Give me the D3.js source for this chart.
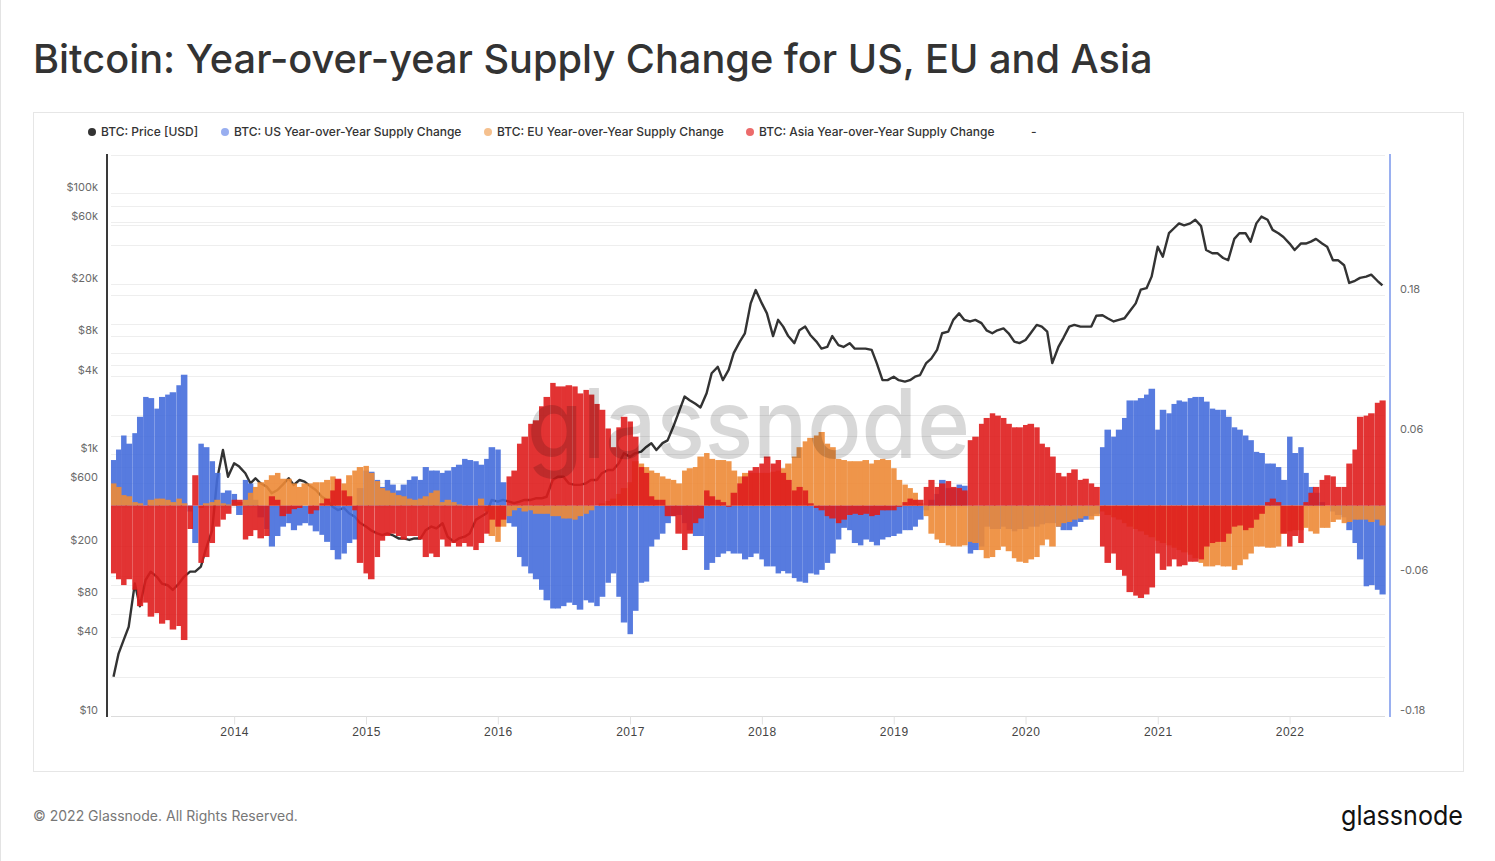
<!DOCTYPE html>
<meta charset="utf-8">
<style>
    body {
        margin: 0;
        background-color: #fff;
        font-family: Inter, "Noto Sans", sans-serif;
    }
    .grid line { stroke: #eeeeee; stroke-width: 1; }
    .axis-label { font-size: 11px; fill: #6a6a6a; }
    .x-axis text { font-size: 12px; fill: #444; letter-spacing: 0.5px; }
    .x-axis line { stroke: #e2e2e2; }
    .x-axis path { stroke: #dcdcdc; }
    .legend text { font-size: 12px; font-weight: 500; fill: #333; }
</style>
<title>Bitcoin: Year-over-year Supply Change for US, EU and Asia</title>
<body>
<svg id="chart" width="1495" height="861"></svg>
<script src="https://cdn.jsdelivr.net/npm/d3@7"></script>
<script>
    // semi-monthly samples, 1st and 15th of each month, Feb 2013 .. Sep 2022
    var dates = [];
    for (var yr = 2013; yr <= 2022; yr++) {
        for (var mo = 0; mo < 12; mo++) {
            dates.push(new Date(yr, mo, 1));
            dates.push(new Date(yr, mo, 15));
        }
    }
    dates = dates.slice(2, 2 + 232);

    var priceUSD = [20, 30, 38, 48, 103, 69, 110, 127, 116, 103, 100, 92, 103, 116, 127, 127, 139, 190, 263, 650,
        1082, 676, 857, 808, 718, 602, 658, 602, 568, 505, 535, 585, 658, 585, 638, 620, 568, 535, 475, 449,
        399, 376, 390, 355, 334, 300, 281, 263, 249, 242, 249, 242, 228, 228, 222, 228, 228, 263, 281, 272,
        298, 235, 215, 228, 235, 249, 316, 334, 355, 449, 436, 449, 436, 424, 436, 449, 449, 462, 462, 475,
        638, 676, 676, 602, 585, 585, 602, 638, 638, 718, 760, 760, 857, 1020, 960, 1020, 1050, 1142, 1220, 1082,
        1220, 1282, 1634, 2070, 2770, 2600, 2440, 2290, 2940, 4180, 4680, 3700, 4430, 5950, 7300, 8450, 14300, 18100, 14300, 12000,
        8040, 10700, 9500, 8040, 7100, 8900, 9500, 8200, 7300, 6450, 6640, 8040, 6850, 6640, 7100, 6450, 6450, 6450, 6300, 5000,
        3700, 3700, 3930, 3700, 3610, 3700, 3930, 4050, 5000, 5400, 6300, 8450, 8700, 10700, 12000, 10700, 10400, 10700, 10100, 8900,
        8450, 8900, 9200, 8450, 7300, 7100, 7500, 8450, 9800, 9500, 8700, 5000, 6640, 7800, 9500, 9800, 9500, 9500, 9500, 11500,
        11600, 11000, 10400, 10700, 11000, 12400, 14300, 18200, 18700, 22900, 38800, 32500, 49200, 53700, 58500, 56500, 58500, 62300, 55700, 36600,
        34600, 34600, 31800, 30600, 44500, 49200, 49200, 42400, 58500, 65900, 62300, 52200, 49200, 46000, 41000, 36600, 41000, 41000, 42400, 44500,
        41000, 38800, 30600, 30600, 28000, 20500, 21300, 22400, 22900, 23700, 21300, 19600];

    var usSupplyChange = [0.039, 0.048, 0.060, 0.053, 0.062, 0.076, 0.093, 0.092, 0.083, 0.093, 0.095, 0.097, 0.103, 0.112, -0.005, -0.032, 0.053, 0.050, 0.038, 0.028,
        0.011, 0.013, 0.010, -0.008, 0.022, 0.019, 0.005, -0.010, -0.020, -0.035, -0.026, -0.018, -0.015, -0.021, -0.017, -0.015, -0.017, -0.022, -0.025, -0.031,
        -0.038, -0.046, -0.041, -0.032, -0.029, 0.015, 0.030, 0.029, 0.022, 0.016, 0.022, 0.018, 0.013, 0.018, 0.022, 0.025, 0.022, 0.033, 0.030, 0.030,
        0.028, 0.030, 0.033, 0.035, 0.040, 0.039, 0.038, 0.035, 0.040, 0.050, 0.048, 0.020, -0.015, -0.018, -0.044, -0.052, -0.058, -0.063, -0.072, -0.081,
        -0.088, -0.088, -0.086, -0.083, -0.085, -0.089, -0.081, -0.083, -0.086, -0.078, -0.066, -0.058, -0.078, -0.100, -0.110, -0.090, -0.066, -0.065, -0.035, -0.029,
        -0.024, -0.015, -0.009, -0.008, -0.015, -0.021, -0.026, -0.026, -0.055, -0.049, -0.044, -0.041, -0.039, -0.041, -0.041, -0.046, -0.044, -0.041, -0.046, -0.052,
        -0.052, -0.058, -0.056, -0.058, -0.062, -0.065, -0.066, -0.058, -0.059, -0.055, -0.049, -0.041, -0.029, -0.019, -0.021, -0.032, -0.034, -0.029, -0.031, -0.034,
        -0.029, -0.027, -0.026, -0.024, -0.021, -0.021, -0.018, -0.012, -0.004, 0.005, 0.010, 0.022, 0.015, 0.015, 0.018, 0.017, -0.041, -0.038, -0.035, -0.018,
        -0.020, -0.020, -0.018, -0.020, -0.022, -0.020, -0.020, -0.018, -0.018, -0.016, -0.015, -0.015, -0.018, -0.021, -0.021, -0.018, -0.014, -0.012, -0.009, -0.007,
        0.050, 0.065, 0.059, 0.065, 0.075, 0.090, 0.090, 0.092, 0.095, 0.100, 0.065, 0.082, 0.079, 0.087, 0.090, 0.089, 0.092, 0.093, 0.093, 0.089,
        0.083, 0.082, 0.082, 0.076, 0.067, 0.065, 0.060, 0.056, 0.046, 0.045, 0.036, 0.036, 0.033, 0.022, 0.059, 0.045, 0.050, 0.028, 0.016, 0.011,
        0.003, 0.000, -0.005, -0.008, -0.010, -0.021, -0.032, -0.046, -0.069, -0.068, -0.072, -0.076];

    var euSupplyChange = [0.019, 0.016, 0.009, 0.008, 0.003, 0.002, 0.000, 0.005, 0.006, 0.006, 0.005, 0.003, 0.006, 0.002, 0.000, 0.000, -0.002, 0.002, 0.003, 0.005,
        0.002, 0.001, 0.002, 0.003, 0.005, 0.011, 0.016, 0.020, 0.022, 0.026, 0.028, 0.023, 0.023, 0.019, 0.016, 0.019, 0.019, 0.020, 0.020, 0.022,
        0.025, 0.022, 0.019, 0.026, 0.030, 0.033, 0.034, 0.028, 0.021, 0.015, 0.013, 0.011, 0.009, 0.008, 0.006, 0.005, 0.006, 0.008, 0.011, 0.013,
        0.003, 0.005, 0.003, 0.001, 0.000, 0.000, 0.000, 0.006, -0.005, -0.026, -0.031, -0.018, -0.009, -0.004, -0.002, -0.005, -0.004, -0.007, -0.007, -0.007,
        -0.009, -0.009, -0.011, -0.011, -0.012, -0.009, -0.007, -0.004, 0.000, 0.002, 0.004, 0.006, 0.010, 0.015, 0.020, 0.038, 0.036, 0.033, 0.030, 0.028,
        0.025, 0.023, 0.022, 0.019, 0.030, 0.032, 0.033, 0.042, 0.045, 0.040, 0.039, 0.039, 0.038, 0.030, 0.025, 0.028, 0.028, 0.028, 0.028, 0.028,
        0.029, 0.030, 0.032, 0.036, 0.042, 0.050, 0.055, 0.058, 0.060, 0.063, 0.053, 0.050, 0.040, 0.039, 0.038, 0.038, 0.038, 0.039, 0.036, 0.039,
        0.040, 0.039, 0.032, 0.022, 0.018, 0.015, 0.011, 0.002, -0.009, -0.024, -0.029, -0.032, -0.034, -0.035, -0.035, -0.034, -0.031, -0.032, -0.038, -0.045,
        -0.044, -0.038, -0.035, -0.039, -0.045, -0.048, -0.049, -0.046, -0.044, -0.034, -0.029, -0.035, -0.018, -0.015, -0.014, -0.012, -0.011, -0.009, -0.012, -0.009,
        -0.005, -0.008, -0.010, -0.012, -0.015, -0.018, -0.020, -0.022, -0.025, -0.027, -0.030, -0.032, -0.034, -0.036, -0.038, -0.040, -0.042, -0.045, -0.049, -0.052,
        -0.052, -0.051, -0.052, -0.052, -0.055, -0.051, -0.046, -0.041, -0.035, -0.035, -0.036, -0.036, -0.035, -0.024, -0.022, -0.021, -0.021, -0.019, -0.022, -0.024,
        -0.019, -0.019, -0.014, -0.012, -0.015, -0.014, -0.012, -0.012, -0.012, -0.014, -0.012, -0.017];

    var asiaSupplyChange = [-0.058, -0.063, -0.068, -0.063, -0.072, -0.086, -0.083, -0.095, -0.092, -0.101, -0.098, -0.106, -0.103, -0.115, -0.020, 0.026, -0.049, -0.044, -0.032, -0.018,
        -0.012, -0.007, 0.005, 0.005, -0.029, -0.026, -0.021, -0.028, -0.026, 0.008, 0.005, -0.009, -0.007, -0.003, -0.002, 0.000, -0.007, -0.004, 0.002, 0.006,
        0.013, 0.023, 0.013, 0.008, -0.004, -0.049, -0.058, -0.063, -0.044, -0.030, -0.026, -0.024, -0.026, -0.029, -0.026, -0.026, -0.029, -0.044, -0.041, -0.044,
        -0.029, -0.035, -0.032, -0.035, -0.032, -0.035, -0.038, -0.032, -0.024, -0.012, -0.018, -0.012, 0.025, 0.030, 0.053, 0.059, 0.070, 0.073, 0.085, 0.093,
        0.105, 0.102, 0.102, 0.103, 0.102, 0.096, 0.099, 0.095, 0.087, 0.082, 0.066, 0.050, 0.067, 0.076, 0.072, 0.059, 0.033, 0.028, 0.008, 0.005,
        0.005, -0.009, -0.009, -0.024, -0.038, -0.024, -0.015, -0.011, 0.013, 0.008, 0.005, 0.003, -0.001, 0.011, 0.019, 0.025, 0.030, 0.033, 0.036, 0.042,
        0.036, 0.039, 0.028, 0.022, 0.013, 0.016, 0.013, 0.002, -0.002, -0.004, -0.009, -0.011, -0.015, -0.012, -0.008, -0.007, -0.008, -0.007, -0.009, -0.008,
        -0.004, -0.004, -0.004, -0.001, 0.003, 0.006, 0.005, 0.005, 0.016, 0.022, 0.016, 0.019, 0.021, 0.016, 0.015, 0.013, 0.056, 0.059, 0.070, 0.075,
        0.079, 0.077, 0.075, 0.070, 0.067, 0.067, 0.069, 0.070, 0.067, 0.053, 0.050, 0.042, 0.028, 0.025, 0.028, 0.031, 0.022, 0.023, 0.019, 0.016,
        -0.035, -0.049, -0.041, -0.055, -0.060, -0.074, -0.077, -0.079, -0.076, -0.070, -0.041, -0.055, -0.052, -0.046, -0.052, -0.051, -0.048, -0.048, -0.046, -0.035,
        -0.032, -0.031, -0.031, -0.024, -0.018, -0.017, -0.021, -0.019, -0.012, -0.007, 0.003, 0.006, 0.003, -0.024, -0.035, -0.026, -0.032, 0.003, 0.011, 0.016,
        0.022, 0.026, 0.025, 0.016, 0.016, 0.036, 0.048, 0.076, 0.077, 0.079, 0.088, 0.090];

    var priceGridTicks = [10, 20, 40, 60, 80, 100, 200, 400, 600, 800, 1000, 2000, 4000, 6000, 8000, 10000, 20000, 40000, 60000, 80000, 100000];
    var priceLabelTicks = [10, 40, 80, 200, 600, 1000, 4000, 8000, 20000, 60000, 100000];
    var changeGridTicks = [-0.18, -0.12, -0.06, 0, 0.06, 0.12, 0.18, 0.24, 0.30];
    var changeLabelTicks = [-0.18, -0.06, 0.06, 0.18];

    var legendItems = [
        {name: "BTC: Price [USD]", color: "#333333", x: 92},
        {name: "BTC: US Year-over-Year Supply Change", color: "#98aef0", x: 225},
        {name: "BTC: EU Year-over-Year Supply Change", color: "#f5c08e", x: 488},
        {name: "BTC: Asia Year-over-Year Supply Change", color: "#ec6b6b", x: 750}
    ];

    var series = [
        {values: usSupplyChange, color: "#456ddc"},
        {values: euSupplyChange, color: "#ee8a37"},
        {values: asiaSupplyChange, color: "#df1d1d"}
    ];

    var plot = {left: 107, right: 1390, top: 155, bottom: 716};

    var svg = d3.select("#chart");

    // page border + card
    svg.append("line").attr("x1", 0.5).attr("x2", 0.5).attr("y1", 0).attr("y2", 861)
        .style("stroke", "#e3e3e3");
    svg.append("rect")
        .attr("x", 33.5).attr("y", 112.5).attr("width", 1430).attr("height", 659)
        .style("fill", "#fff").style("stroke", "#e6e6e6");

    // title, shrunk to fit the reference width
    var title = svg.append("text")
        .attr("x", 33).attr("y", 73)
        .style("font-size", "40px").style("font-weight", 500).style("fill", "#333")
        .text("Bitcoin: Year-over-year Supply Change for US, EU and Asia");
    var tw = title.node().getComputedTextLength();
    title.style("font-size", (40 * 1120 / tw).toFixed(2) + "px");

    var x = d3.scaleTime()
        .domain([new Date(2013, 0, 14), new Date(2022, 9, 6)])
        .range([plot.left, plot.right]);

    var yPrice = d3.scaleLog()
        .domain([10, 195000])
        .range([plot.bottom, plot.top]);

    var yChange = d3.scaleLinear()
        .domain([-0.18, 0.30])
        .range([plot.bottom, plot.top]);

    // gridlines
    var grid = svg.append("g").attr("class", "grid");
    grid.selectAll(".gp").data(priceGridTicks).enter().append("line")
        .attr("x1", plot.left + 4).attr("x2", plot.right - 5)
        .attr("y1", function(d) { return Math.round(yPrice(d)) + 0.5; })
        .attr("y2", function(d) { return Math.round(yPrice(d)) + 0.5; });
    grid.selectAll(".gc").data(changeGridTicks).enter().append("line")
        .attr("x1", plot.left + 4).attr("x2", plot.right - 5)
        .attr("y1", function(d) { return Math.round(yChange(d)) + 0.5; })
        .attr("y2", function(d) { return Math.round(yChange(d)) + 0.5; });

    // x axis
    svg.append("g")
        .attr("class", "x-axis")
        .attr("transform", "translate(0," + (plot.bottom + 0.5) + ")")
        .call(d3.axisBottom(x).ticks(d3.timeYear.every(1)).tickFormat(d3.timeFormat("%Y")).tickSize(8).tickSizeOuter(0))
        .call(function(g) { g.select(".domain").attr("d", "M" + (plot.left + 4) + ",0H" + (plot.right - 5)); })
        .call(function(g) { g.selectAll("text").attr("y", 11); });

    // price line under the bars
    var line = d3.line()
        .x(function(d, i) { return x(dates[i]); })
        .y(function(d) { return yPrice(d); });
    svg.append("path")
        .datum(priceUSD)
        .attr("d", line)
        .style("fill", "none")
        .style("stroke", "#333")
        .style("stroke-width", 2.4)
        .style("stroke-linejoin", "round");

    // supply change bars, drawn from zero, US then EU then Asia on top
    var endDate = new Date(2022, 9, 1);
    function barX(i) { return x(dates[i]); }
    function barW(i) { return (i < dates.length - 1 ? x(dates[i + 1]) : x(endDate)) - x(dates[i]); }

    series.forEach(function(s) {
        svg.append("g")
            .style("opacity", 0.9)
            .selectAll("rect")
            .data(s.values)
            .enter().append("rect")
            .attr("x", function(d, i) { return barX(i) - barW(i) / 2; })
            .attr("width", function(d, i) { return barW(i) + 0.4; })
            .attr("y", function(d) { return yChange(Math.max(0, d)); })
            .attr("height", function(d) { return Math.abs(yChange(d) - yChange(0)); })
            .style("fill", s.color);
    });

    // watermark
    svg.append("text")
        .attr("x", 527).attr("y", 458)
        .attr("textLength", 443).attr("lengthAdjust", "spacingAndGlyphs")
        .style("font-size", "96px").style("font-weight", 500)
        .style("fill", "#000").style("opacity", 0.15)
        .text("glassnode");

    // left axis
    svg.append("line")
        .attr("x1", plot.left).attr("x2", plot.left).attr("y1", plot.top - 1).attr("y2", plot.bottom + 1)
        .style("stroke", "#3a3a3a").style("stroke-width", 2);
    var priceFmt = function(d) { return d >= 1000 ? "$" + (d / 1000) + "k" : "$" + d; };
    svg.append("g").selectAll("text").data(priceLabelTicks).enter().append("text")
        .attr("class", "axis-label")
        .attr("x", 98)
        .attr("y", function(d) { return yPrice(d) - 6; })
        .attr("dy", "0.35em")
        .attr("text-anchor", "end")
        .text(priceFmt);

    // right axis
    svg.append("line")
        .attr("x1", plot.right).attr("x2", plot.right).attr("y1", plot.top - 1).attr("y2", plot.bottom + 1)
        .style("stroke", "#9ab0f0").style("stroke-width", 2);
    svg.append("g").selectAll("text").data(changeLabelTicks).enter().append("text")
        .attr("class", "axis-label")
        .attr("x", 1400)
        .attr("y", function(d) { return yChange(d) - 6; })
        .attr("dy", "0.35em")
        .text(function(d) { return d3.format(".2f")(d).replace("\u2212", "-"); });

    // legend
    var legend = svg.append("g").attr("class", "legend");
    var lg = legend.selectAll("g").data(legendItems).enter().append("g");
    lg.append("circle")
        .attr("cx", function(d) { return d.x; })
        .attr("cy", 132)
        .attr("r", 4)
        .style("fill", function(d) { return d.color; });
    lg.append("text")
        .attr("x", function(d) { return d.x + 9; })
        .attr("y", 132)
        .attr("dy", "0.35em")
        .text(function(d) { return d.name; });
    legend.append("text").attr("x", 1031).attr("y", 132).attr("dy", "0.35em").text("-");

    // footer
    svg.append("text")
        .attr("x", 33).attr("y", 821)
        .style("font-size", "14px").style("fill", "#777")
        .text("© 2022 Glassnode. All Rights Reserved.");
    svg.append("text")
        .attr("x", 1463).attr("y", 825)
        .attr("text-anchor", "end")
        .attr("textLength", 122).attr("lengthAdjust", "spacingAndGlyphs")
        .style("font-size", "27px").style("font-weight", 400).style("fill", "#111")
        .text("glassnode");
</script>
</body>
</html>
